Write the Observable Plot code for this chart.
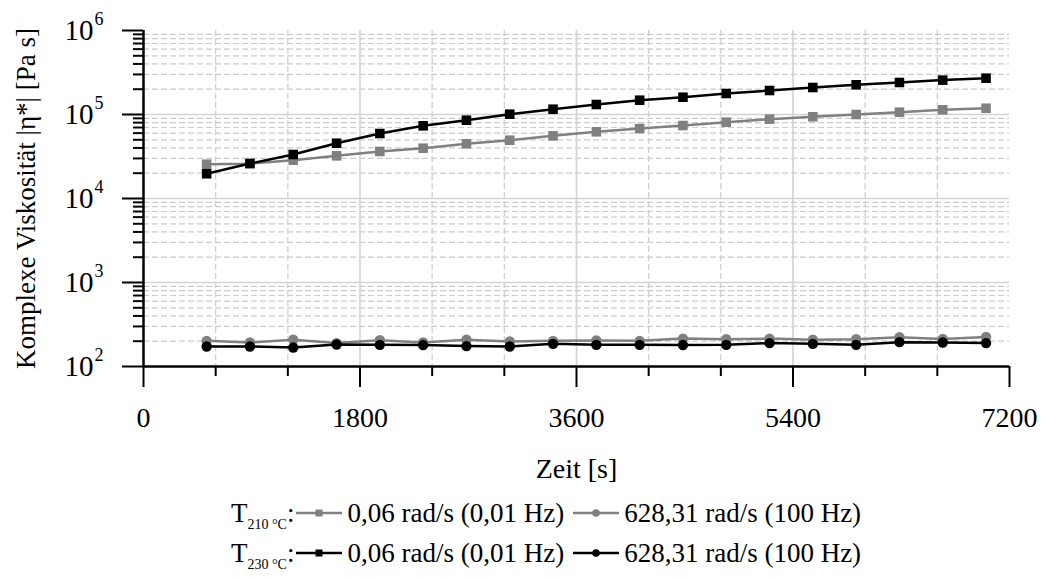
<!DOCTYPE html>
<html><head><meta charset="utf-8">
<script src="https://cdn.jsdelivr.net/npm/d3@7"></script>
<script src="https://cdn.jsdelivr.net/npm/@observablehq/plot@0.6"></script>
<style>
body{margin:0;background:#fff;font-family:"Liberation Serif",serif;}
#wrap{position:relative;width:1045px;height:577px;overflow:hidden;}
#legend{position:absolute;left:231px;top:493px;font-size:27px;color:#000;}
.row{display:flex;align-items:center;height:40px;white-space:nowrap;}
.row sub{font-size:14px;vertical-align:baseline;position:relative;top:7px;}
.sw{margin:0 5px 0 2px;display:block;}
.gap{width:7px;}
</style></head><body><div id="wrap"><div id="chart"></div><div id="legend"></div></div>
<script>
// Data
const time = [525, 885, 1245, 1605, 1965, 2325, 2685, 3045, 3405, 3765, 4125, 4485, 4845, 5205, 5565, 5925, 6285, 6645, 7005];
const t210Low  = [25600, 26000, 28600, 32200, 36300, 39700, 44800, 49400, 55700, 62200, 68100, 73900, 81000, 88000, 93900, 100000, 106600, 113700, 118800];
const t230Low  = [19700, 26100, 33400, 45500, 59400, 73300, 85500, 100900, 115600, 131500, 148000, 160600, 177800, 193000, 209600, 225700, 240500, 256600, 270700];
const t210High = [202, 193, 208, 190, 206, 193, 208, 199, 202, 204, 202, 215, 211, 215, 208, 211, 223, 213, 225];
const t230High = [173, 173, 168, 183, 181, 180, 175, 173, 186, 181, 181, 180, 181, 190, 186, 181, 195, 193, 190];

const xTicks = [0, 1800, 3600, 5400, 7200];
const xMinorTicks = [600, 1200, 2400, 3000, 4200, 4800, 6000, 6600];
const yTicks = [1e2, 1e3, 1e4, 1e5, 1e6];
const yMinorTicks = [2, 3, 4, 5].flatMap(e => [2, 3, 4, 5, 6, 7, 8, 9].map(m => m * 10 ** e));
const xGridMajor = [1800, 3600, 5400];
const yGridMajor = [1e3, 1e4, 1e5];

const xLabel = "Zeit [s]";
const yLabel = "Komplexe Viskosität |η*| [Pa s]";
const legendGroups = ["210 °C", "230 °C"];
const legendItems = ["0,06 rad/s (0,01 Hz)", "628,31 rad/s (100 Hz)"];

const gray = "#808080", black = "#000000";
const series = [
  {values: t210Low, color: gray, symbol: "square"},
  {values: t210High, color: gray, symbol: "circle"},
  {values: t230Low, color: black, symbol: "square"},
  {values: t230High, color: black, symbol: "circle"}
];

const seriesMarks = series.flatMap(s => {
  const rows = time.map((t, i) => ({t, v: s.values[i]}));
  return [
    Plot.line(rows, {x: "t", y: "v", stroke: s.color, strokeWidth: 2.5}),
    Plot.dot(rows, {x: "t", y: "v", symbol: s.symbol, fill: s.color, stroke: "none", r: s.symbol === "square" ? 5.4 : 5.2})
  ];
});

const grid = {stroke: "#cccccc", strokeWidth: 1.2, strokeDasharray: "6,3"};
const chart = Plot.plot({
  width: 1045, height: 480,
  marginLeft: 143, marginRight: 36, marginTop: 30, marginBottom: 114,
  style: {fontFamily: "Liberation Serif", fontSize: "27px", background: "white", overflow: "visible"},
  x: {domain: [0, 7200], axis: null},
  y: {type: "log", domain: [100, 1e6], axis: null},
  marks: [
    Plot.ruleY(yMinorTicks, grid),
    Plot.ruleX(xMinorTicks, grid),
    Plot.ruleY(yGridMajor, {stroke: "#d2d2d2", strokeWidth: 1.6}),
    Plot.ruleX(xGridMajor, {stroke: "#d2d2d2", strokeWidth: 1.6}),
    ...seriesMarks,
    Plot.axisX({ticks: xMinorTicks, tickSize: 10, strokeWidth: 2, tickFormat: () => "", label: null}),
    Plot.axisX({ticks: xTicks, tickSize: 21, strokeWidth: 2, tickPadding: 20, fontSize: 28, label: null, tickFormat: d => String(d)}),
    Plot.axisY({ticks: yMinorTicks, tickSize: 10, strokeWidth: 2, tickFormat: () => "", label: null}),
    Plot.axisY({ticks: yTicks, tickSize: 21, strokeWidth: 2, tickFormat: () => "", label: null}),
    Plot.text(yTicks, {y: d => d, frameAnchor: "left", dx: -50, text: () => "10", textAnchor: "end", lineAnchor: "middle", fontSize: 29}),
    Plot.text(yTicks, {y: d => d, frameAnchor: "left", dx: -49, dy: -11, text: d => String(Math.round(Math.log10(d))), textAnchor: "start", lineAnchor: "middle", fontSize: 18}),
    Plot.ruleX([0], {stroke: "black", strokeWidth: 2.5}),
    Plot.ruleY([100], {stroke: "black", strokeWidth: 2.5}),
    Plot.text([xLabel], {frameAnchor: "bottom", dy: 103, lineAnchor: "middle", textAnchor: "middle", fontSize: 28, text: d => d}),
    Plot.text([yLabel], {frameAnchor: "left", rotate: -90, dx: -117, lineAnchor: "middle", textAnchor: "middle", fontSize: 27, text: d => d})
  ]
});
document.getElementById("chart").appendChild(chart);

// Legend
function swatch(color, symbol) {
  const ns = "http://www.w3.org/2000/svg";
  const w = 46;
  const svg = document.createElementNS(ns, "svg");
  svg.setAttribute("width", w); svg.setAttribute("height", 20); svg.setAttribute("class", "sw");
  const line = document.createElementNS(ns, "line");
  line.setAttribute("x1", 0); line.setAttribute("x2", w); line.setAttribute("y1", 10); line.setAttribute("y2", 10);
  line.setAttribute("stroke", color); line.setAttribute("stroke-width", 2.5);
  svg.appendChild(line);
  let m;
  if (symbol === "square") {
    m = document.createElementNS(ns, "rect");
    m.setAttribute("x", w / 2 - 3.5); m.setAttribute("y", 6.5); m.setAttribute("width", 7); m.setAttribute("height", 7);
  } else {
    m = document.createElementNS(ns, "circle");
    m.setAttribute("cx", w / 2); m.setAttribute("cy", 10); m.setAttribute("r", 3.8);
  }
  m.setAttribute("fill", color);
  svg.appendChild(m);
  return svg;
}
const legend = document.getElementById("legend");
legendGroups.forEach((g, gi) => {
  const color = gi === 0 ? gray : black;
  const row = document.createElement("div"); row.className = "row";
  const lab = document.createElement("span"); lab.innerHTML = "T<sub>" + g + "</sub>:";
  row.appendChild(lab);
  legendItems.forEach((item, ii) => {
    if (ii > 0) { const gp = document.createElement("span"); gp.className = "gap"; row.appendChild(gp); }
    row.appendChild(swatch(color, ii === 0 ? "square" : "circle"));
    const t = document.createElement("span"); t.textContent = item; row.appendChild(t);
  });
  legend.appendChild(row);
});
</script>
</body></html>
